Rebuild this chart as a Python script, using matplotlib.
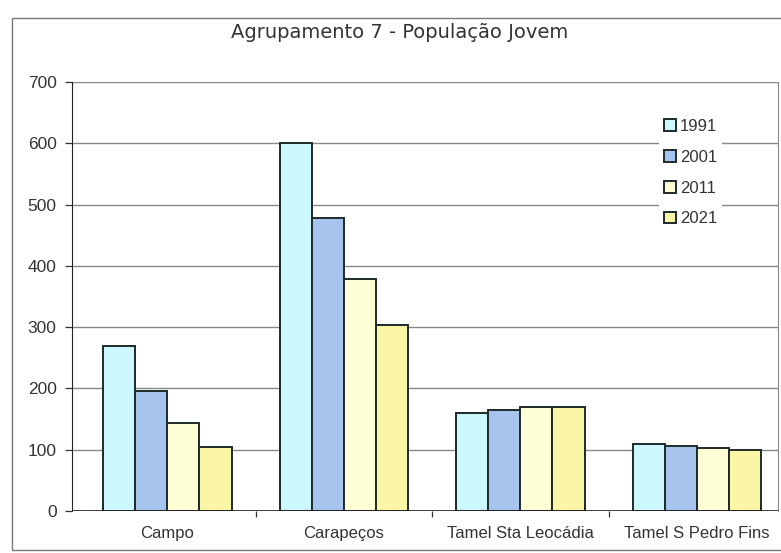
import matplotlib.pyplot as plt
import numpy as np

# data
categories = ["Campo", "Carapeços", "Tamel Sta Leocádia", "Tamel S Pedro Fins"]
years = ["1991", "2001", "2011", "2021"]
pop_1991 = [270, 600, 160, 110]
pop_2001 = [195, 478, 165, 106]
pop_2011 = [143, 378, 170, 103]
pop_2021 = [105, 303, 170, 100]
series = [pop_1991, pop_2001, pop_2011, pop_2021]
colors = ["#ccf7ff", "#a6c4ee", "#ffffd6", "#fbf6a6"]

plt.rcParams["font.family"] = ["Liberation Sans", "DejaVu Sans"]

fig = plt.figure(figsize=(7.81, 5.53), dpi=100)
# outer chart frame
fig.patches.append(plt.Rectangle((12 / 781, 3 / 553), 1.0, 1 - 21 / 553,
                                 transform=fig.transFigure, fill=False,
                                 edgecolor="#777777", linewidth=1.0))
ax = fig.add_axes([72 / 781, 1 - 511 / 553, (778 - 72) / 781, (511 - 82) / 553])

x = np.arange(len(categories))
w = 0.182
for i, vals in enumerate(series):
    ax.bar(x + (i - 1.5) * w, vals, width=w, color=colors[i],
           edgecolor="#1e2a2a", linewidth=1.4, label=years[i], zorder=3)

ax.set_xlim(-0.54, len(categories) - 0.54)
ax.set_ylim(0, 700)
ax.set_yticks(range(0, 701, 100))
ax.tick_params(axis="y", labelsize=12.5, colors="#333333", length=5, width=0.9, pad=6)
ax.tick_params(axis="x", length=0, labelsize=12, colors="#333333", pad=11)
ax.set_xticks(x)
ax.set_xticklabels(categories)
# small ticks between the categories
ax.set_xticks(np.arange(0.5, len(categories) - 0.5, 1), minor=True)
ax.tick_params(axis="x", which="minor", length=4, width=0.9, color="#333333")

ax.yaxis.grid(True, color="#888888", linewidth=1.0, zorder=0)
for s in ["top", "bottom"]:
    ax.spines[s].set_visible(False)
ax.spines["left"].set_color("#222222")
ax.spines["right"].set_color("#888888")
ax.axhline(0, color="#222222", linewidth=1.2, zorder=4)

leg = ax.legend(loc="upper left", bbox_to_anchor=(0.82, 0.945), frameon=True,
                fontsize=12, handlelength=0.7, handleheight=0.7,
                handletextpad=0.25, labelspacing=0.95, borderpad=0.3)
leg.get_frame().set_edgecolor("none")
leg.get_frame().set_facecolor("white")
leg.get_frame().set_alpha(1)
for t in leg.get_texts():
    t.set_color("#333333")

fig.text(400 / 781, 1 - 33 / 553, "Agrupamento 7 - População Jovem",
         ha="center", va="center", fontsize=14, color="#333333",
         family=["DejaVu Sans"])

fig.savefig("out.png", dpi=100)
